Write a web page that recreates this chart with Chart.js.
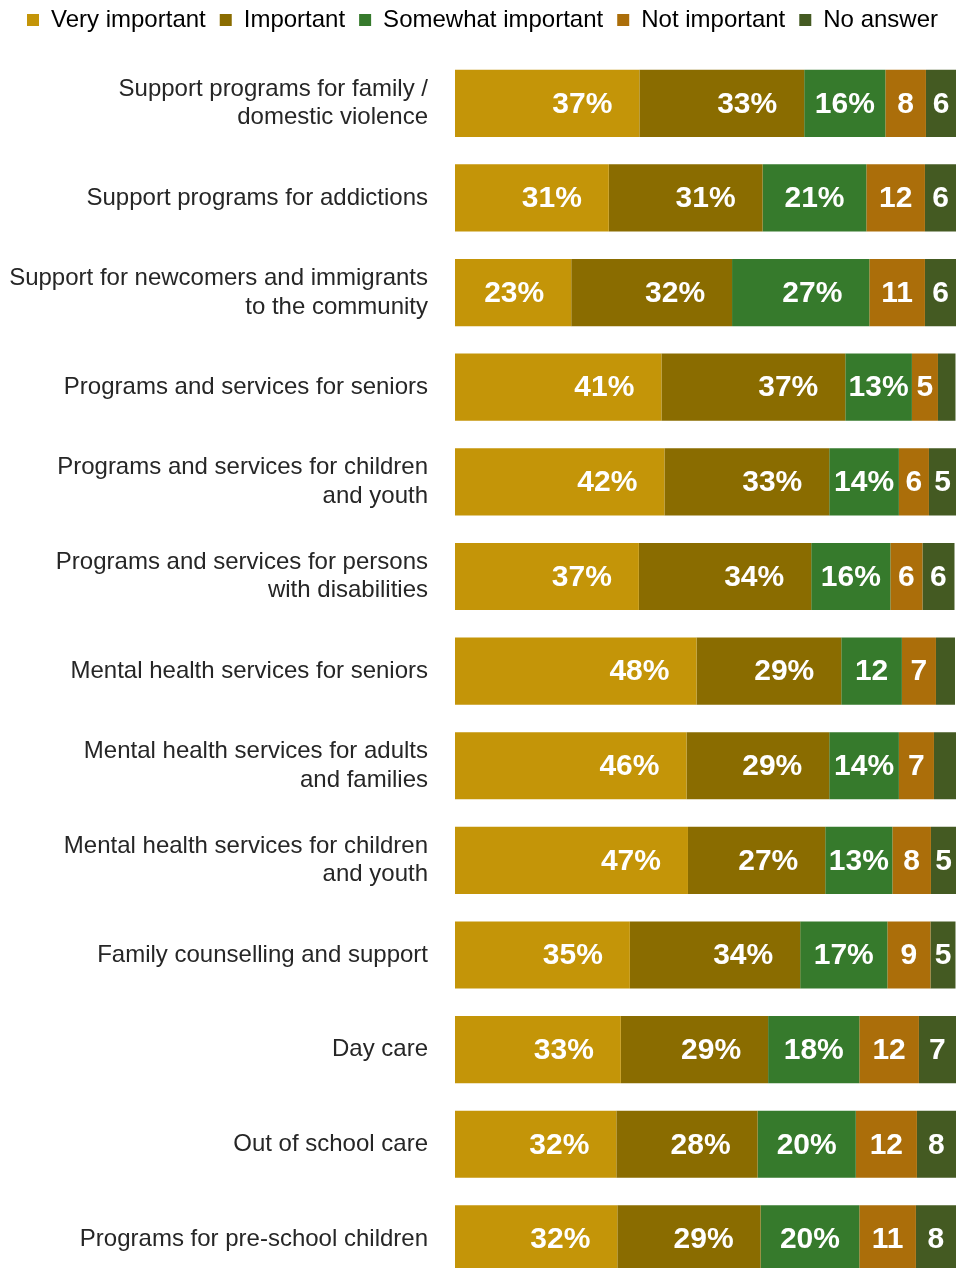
<!DOCTYPE html>
<html>
<head>
<meta charset="utf-8">
<title>Importance of community services</title>
<script src="https://cdn.jsdelivr.net/npm/chart.js@4.4.0/dist/chart.umd.min.js"></script>
<style>
  html, body { margin: 0; padding: 0; background: #fff; overflow: hidden; }
  canvas { display: block; }
</style>
</head>
<body>
<canvas id="services-chart" width="964" height="1315"></canvas>
<script>
// categories, top to bottom
const services = [
  ["Support programs for family /", "domestic violence"],
  "Support programs for addictions",
  ["Support for newcomers and immigrants", "to the community"],
  "Programs and services for seniors",
  ["Programs and services for children", "and youth"],
  ["Programs and services for persons", "with disabilities"],
  "Mental health services for seniors",
  ["Mental health services for adults", "and families"],
  ["Mental health services for children", "and youth"],
  "Family counselling and support",
  "Day care",
  "Out of school care",
  "Programs for pre-school children",
];

// shares in percent
const veryImportant = [36.8, 30.7, 23.2, 41.2, 41.8, 36.7, 48.2, 46.2, 46.5, 34.9, 33.1, 32.2, 32.4];
const important = [32.9, 30.7, 32.1, 36.7, 32.9, 34.4, 28.9, 28.5, 27.4, 34.0, 29.4, 28.2, 28.6];
const somewhatImportant = [16.2, 20.7, 27.4, 13.3, 13.9, 15.8, 12.1, 13.9, 13.4, 17.4, 18.2, 19.6, 19.7];
const notImportant = [8.1, 11.7, 11.1, 5.2, 6.0, 6.4, 6.8, 7.0, 7.7, 8.6, 11.9, 12.2, 11.3];
const noAnswer = [6.0, 6.2, 6.2, 3.5, 5.4, 6.4, 3.8, 4.4, 5.0, 5.0, 7.4, 7.8, 8.0];

const FONT = "'Liberation Sans', Arial, sans-serif";

// white value labels inside the segments
const segmentLabels = {
  id: "segmentLabels",
  afterDatasetsDraw(chart) {
    const ctx = chart.ctx;
    ctx.save();
    ctx.font = "bold 30px " + FONT;
    ctx.fillStyle = "#ffffff";
    ctx.textAlign = "center";
    ctx.textBaseline = "middle";
    chart.data.datasets.forEach((ds, i) => {
      const meta = chart.getDatasetMeta(i);
      meta.data.forEach((bar, j) => {
        const v = ds.data[j];
        if (v < 4.5) return; // too thin, no label
        const text = Math.round(v) + (v >= 13 ? "%" : "");
        const w = ctx.measureText(text).width;
        const mid = (bar.x + bar.base) / 2;
        const x = Math.max(mid, bar.x - 27 - w / 2);
        ctx.fillText(text, x, bar.y + 1);
      });
    });
    ctx.restore();
  },
};

const ctx = document.getElementById("services-chart").getContext("2d");
new Chart(ctx, {
  type: "bar",
  data: {
    labels: services,
    datasets: [
      { label: "Very important", data: veryImportant, backgroundColor: "#C49508" },
      { label: "Important", data: important, backgroundColor: "#8A6C00" },
      { label: "Somewhat important", data: somewhatImportant, backgroundColor: "#367A2C" },
      { label: "Not important", data: notImportant, backgroundColor: "#AB6E0A" },
      { label: "No answer", data: noAnswer, backgroundColor: "#445A22" },
    ],
  },
  options: {
    indexAxis: "y",
    responsive: false,
    animation: false,
    layout: { padding: { left: 9, right: 8, top: -6, bottom: 4 } },
    datasets: { bar: { barPercentage: 0.71, categoryPercentage: 1.0, borderWidth: 0 } },
    scales: {
      // hidden x axis on top, used only as a spacer under the legend
      x: {
        stacked: true,
        min: 0,
        max: 100,
        position: "top",
        grid: { display: false, drawTicks: false },
        border: { display: false },
        ticks: { display: false },
        afterFit(scale) { scale.height = 14; },
      },
      y: {
        stacked: true,
        // invisible tick marks give the gap between labels and bars
        grid: {
          display: true,
          drawOnChartArea: false,
          drawTicks: true,
          tickLength: 27,
          color: "rgba(0,0,0,0)",
        },
        border: { display: false },
        ticks: {
          color: "#262626",
          padding: 0,
          font: { family: FONT, size: 24, lineHeight: 1.2 },
        },
        afterFit(scale) { scale.width = 446; },
      },
    },
    plugins: {
      legend: {
        position: "top",
        labels: {
          color: "#000000",
          boxWidth: 12,
          boxHeight: 12,
          padding: 14,
          font: { family: FONT, size: 24 },
        },
      },
      tooltip: { enabled: false },
    },
  },
  plugins: [segmentLabels],
});
</script>
</body>
</html>
